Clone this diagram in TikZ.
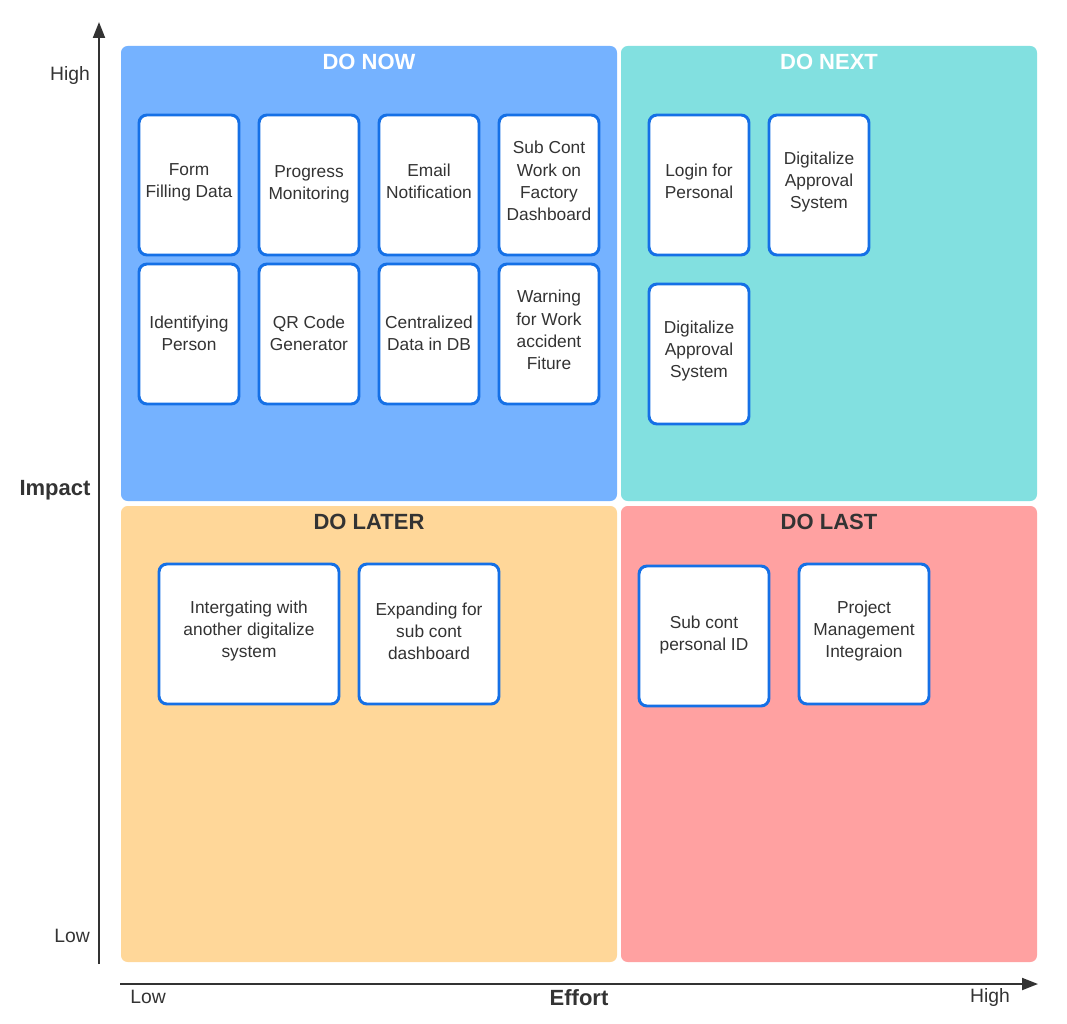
\documentclass[tikz,border=0pt]{standalone}
\usepackage{fontspec}
\setmainfont{Liberation Sans}
\usetikzlibrary{arrows.meta}
\definecolor{nowc}{HTML}{75B2FF}
\definecolor{nextc}{HTML}{82E0E0}
\definecolor{laterc}{HTML}{FFD799}
\definecolor{lastc}{HTML}{FFA1A1}
\definecolor{cardb}{HTML}{1570E6}
\definecolor{txt}{HTML}{333333}
\tikzset{
  quad/.style={rounded corners=5pt, draw=none},
  card/.style={draw=cardb, line width=2.2pt, fill=white, rounded corners=6pt},
  cardtxt/.style={align=center, text=txt, font=\fontsize{13}{16.6}\selectfont},
  qtitle/.style={font=\fontsize{16.5}{19}\selectfont\bfseries},
  axlab/.style={text=txt, font=\fontsize{14.5}{17}\selectfont},
  axbold/.style={text=txt, font=\fontsize{16.5}{19}\selectfont\bfseries},
  axis/.style={draw=txt, line width=1.5pt, -{Triangle[length=12pt,width=9pt]}}
}
\begin{document}
\begin{tikzpicture}[x=0.75pt,y=-0.75pt]
\useasboundingbox (0,0) rectangle (1067,1024);
% quadrants
\fill[quad, nowc] (121,46) rectangle (617,501);
\fill[quad, nextc] (621,46) rectangle (1037,501);
\fill[quad, laterc] (121,506) rectangle (617,962);
\fill[quad, lastc] (621,506) rectangle (1037,962);
\node[qtitle, text=white] (tnow) at (369,62) {DO NOW};
\node[qtitle, text=white] (tnext) at (829,62) {DO NEXT};
\node[qtitle, text=txt] (tlater) at (369,522) {DO LATER};
\node[qtitle, text=txt] (tlast) at (829,522) {DO LAST};
% axes
\coordinate (yo) at (99,964);
\coordinate (yt) at (99,22);
\coordinate (xo) at (120,984);
\coordinate (xt) at (1038,984);
\draw[axis] (yo) -- (yt);
\draw[axis] (xo) -- (xt);
\node[axlab] (hi) at (70,76) {High};
\node[axlab] (lo) at (72,936) {Low};
\node[axbold] (imp) at (55,490) {Impact};
\node[axbold] (eff) at (579,998) {Effort};
\node[axlab] (xlo) at (148,997) {Low};
\node[axlab] (xhi) at (990,997) {High};
% cards DO NOW
\draw[card] (139,115) rectangle (239,255); \node[cardtxt] (c1) at (189,182) {Form\\Filling Data};
\draw[card] (259,115) rectangle (359,255); \node[cardtxt] (c2) at (309,184) {Progress\\Monitoring};
\draw[card] (379,115) rectangle (479,255); \node[cardtxt] (c3) at (429,181) {Email\\Notification};
\draw[card] (499,115) rectangle (599,255); \node[cardtxt] (c4) at (549,181) {Sub Cont\\Work on\\Factory\\Dashboard};
\draw[card] (139,264) rectangle (239,404); \node[cardtxt] (c5) at (189,333) {Identifying\\Person};
\draw[card] (259,264) rectangle (359,404); \node[cardtxt] (c6) at (309,333) {QR Code\\Generator};
\draw[card] (379,264) rectangle (479,404); \node[cardtxt] (c7) at (429,333) {Centralized\\Data in DB};
\draw[card] (499,264) rectangle (599,404); \node[cardtxt] (c8) at (549,330) {Warning\\for Work\\accident\\Fiture};
% DO NEXT
\draw[card] (649,115) rectangle (749,255); \node[cardtxt] (n1) at (699,181) {Login for\\Personal};
\draw[card] (769,115) rectangle (869,255); \node[cardtxt] (n2) at (819,182) {Digitalize\\Approval\\System};
\draw[card] (649,284) rectangle (749,424); \node[cardtxt] (n3) at (699,351) {Digitalize\\Approval\\System};
% DO LATER
\draw[card] (159,564) rectangle (339,704); \node[cardtxt] (l1) at (249,631) {Intergating with\\another digitalize\\system};
\draw[card] (359,564) rectangle (499,704); \node[cardtxt] (l2) at (429,631) {Expanding for\\sub cont\\dashboard};
% DO LAST
\draw[card] (639,566) rectangle (769,706); \node[cardtxt] (s1) at (704,635) {Sub cont\\personal ID};
\draw[card] (799,564) rectangle (929,704); \node[cardtxt] (s2) at (864,631) {Project\\Management\\Integraion};
\end{tikzpicture}
\end{document}
